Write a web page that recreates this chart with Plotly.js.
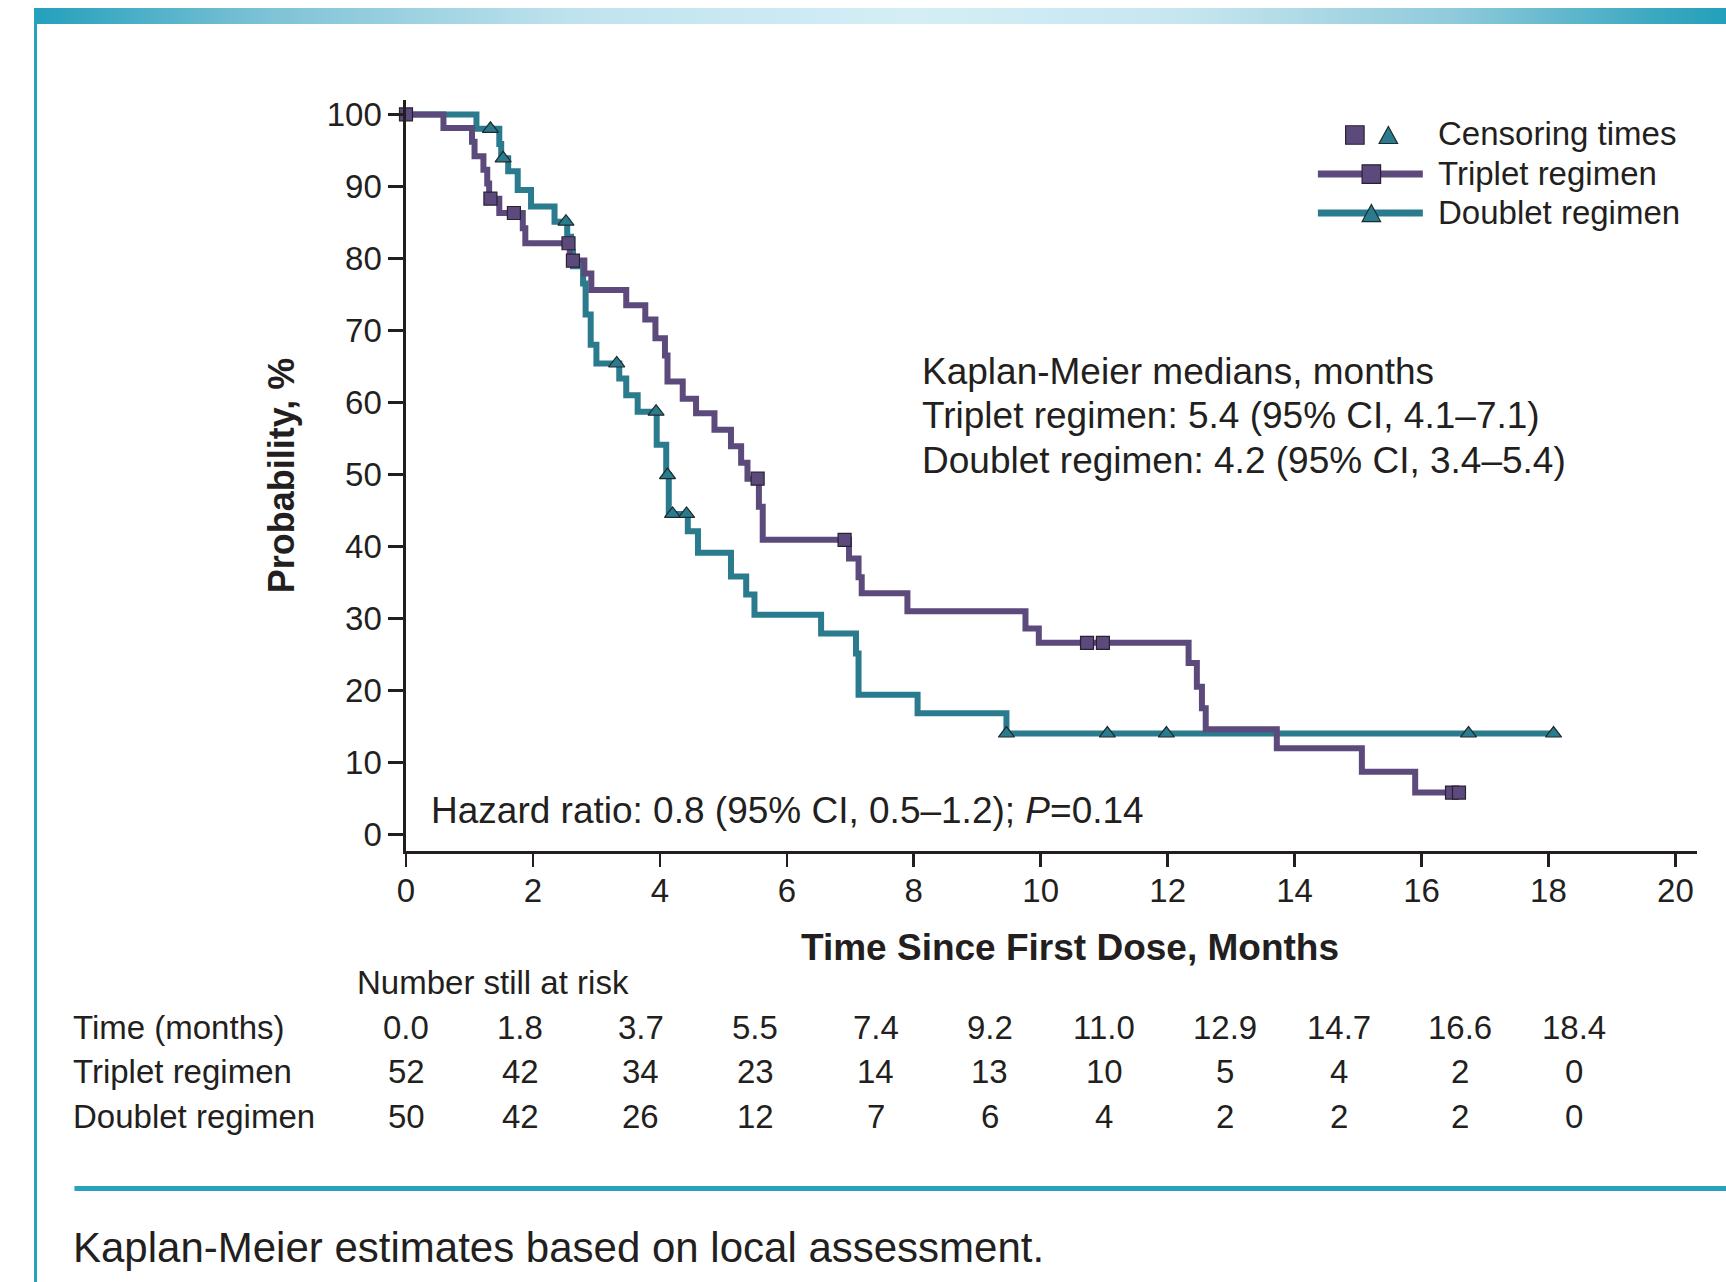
<!DOCTYPE html>
<html>
<head>
<meta charset="utf-8">
<script src="https://cdn.plot.ly/plotly-3.0.1.min.js"></script>
<style>
html,body{margin:0;padding:0;background:#ffffff;}
#wrap{position:relative;width:1726px;height:1282px;overflow:hidden;background:#ffffff;}
#band{position:absolute;left:34px;top:8px;width:1692px;height:16px;
  background:linear-gradient(to right,#23a0bc 0%,#7fc3d6 14%,#bfe3ee 32%,#d5eef5 52%,#c6e6ef 68%,#8fcadb 84%,#3aa8c1 96%,#22a0bb 100%);}
#vline{position:absolute;left:34px;top:8px;width:3px;height:1274px;background:#27a2bd;}
#chart{position:absolute;left:0;top:0;width:1726px;height:1282px;}
</style>
</head>
<body>
<div id="wrap">
  <div id="band"></div>
  <div id="vline"></div>
  <div id="chart"></div>
</div>
<script>
// ---------------- DATA ----------------
// Kaplan-Meier step curves (time in months, survival %)
const tripletTime = [0, 0.59, 1.04, 1.08, 1.22, 1.28, 1.31, 1.47, 1.84, 1.88, 2.58, 2.81, 2.92, 3.47, 3.77, 3.93, 4.08, 4.12, 4.36, 4.57, 4.86, 5.12, 5.28, 5.38, 5.56, 5.62, 6.98, 7.13, 7.18, 7.90, 9.76, 9.97, 12.33, 12.46, 12.54, 12.60, 13.72, 15.06, 15.90, 16.59];
const tripletSurv = [100, 98.1, 96.2, 94.2, 92.3, 90.4, 88.3, 86.3, 84.2, 82.1, 79.7, 77.9, 75.6, 73.5, 71.5, 68.9, 66.5, 62.9, 60.5, 58.5, 56.2, 53.9, 51.6, 49.4, 45.5, 40.9, 38.3, 35.7, 33.5, 31.0, 28.6, 26.6, 23.8, 20.5, 17.5, 14.6, 11.95, 8.7, 5.8, 5.8];
const doubletTime = [0, 1.11, 1.47, 1.50, 1.61, 1.76, 1.97, 2.34, 2.54, 2.60, 2.63, 2.79, 2.83, 2.91, 3.00, 3.36, 3.47, 3.65, 3.95, 4.10, 4.14, 4.44, 4.60, 5.12, 5.36, 5.49, 6.54, 7.09, 7.13, 8.06, 9.46, 18.12];
const doubletSurv = [100, 98.0, 95.9, 93.9, 92.1, 89.5, 87.2, 85.1, 83.0, 80.9, 78.9, 76.5, 72.2, 68.0, 65.4, 63.3, 61.0, 58.7, 54.1, 49.9, 44.5, 42.1, 39.1, 35.8, 33.3, 30.5, 27.9, 25.1, 19.4, 16.8, 14.0, 14.0];
// Censoring times
const tripletCensorTime = [0, 1.33, 1.70, 2.56, 2.63, 5.54, 6.91, 10.73, 10.98, 16.48, 16.59];
const tripletCensorSurv = [100, 88.3, 86.3, 82.1, 79.7, 49.4, 40.9, 26.6, 26.6, 5.8, 5.8];
const doubletCensorTime = [1.33, 1.53, 2.52, 3.32, 3.94, 4.12, 4.20, 4.42, 9.46, 11.05, 11.98, 16.74, 18.08];
const doubletCensorSurv = [98.0, 93.9, 85.1, 65.4, 58.7, 49.9, 44.5, 44.5, 14.0, 14.0, 14.0, 14.0, 14.0];
// Number at risk table
const riskTimes = [0.0, 1.8, 3.7, 5.5, 7.4, 9.2, 11.0, 12.9, 14.7, 16.6, 18.4];
const riskTimeLabels = ["0.0", "1.8", "3.7", "5.5", "7.4", "9.2", "11.0", "12.9", "14.7", "16.6", "18.4"];
const riskTriplet = [52, 42, 34, 23, 14, 13, 10, 5, 4, 2, 0];
const riskDoublet = [50, 42, 26, 12, 7, 6, 4, 2, 2, 2, 0];
const yTicks = [0, 10, 20, 30, 40, 50, 60, 70, 80, 90, 100];
const xTicks = [0, 2, 4, 6, 8, 10, 12, 14, 16, 18, 20];

// ---------------- STYLE ----------------
const PURPLE = '#5b4a7b';
const TEAL = '#2a7b8d';
const INK = '#231f20';
const FONT = '"Liberation Sans", Arial, Helvetica, sans-serif';

const W = 1726, H = 1282;
const L = 405.7, R = 1697.3, T = 100, B = 850.7;
const px = v => (v - L) / (R - L);      // pixel -> paper x
const py = v => (B - v) / (B - T);      // pixel -> paper y

const traces = [
  {x: doubletTime, y: doubletSurv, type: 'scatter', mode: 'lines', line: {shape: 'hv', color: TEAL, width: 6}, name: 'Doublet regimen', cliponaxis: false, hoverinfo: 'x+y'},
  {x: tripletTime, y: tripletSurv, type: 'scatter', mode: 'lines', line: {shape: 'hv', color: PURPLE, width: 6}, name: 'Triplet regimen', cliponaxis: false, hoverinfo: 'x+y'},
  {x: doubletCensorTime, y: doubletCensorSurv, type: 'scatter', mode: 'markers', marker: {symbol: 'triangle-up', size: 14, color: TEAL, line: {color: '#1e2a2e', width: 1.2}}, name: 'Doublet censored', cliponaxis: false},
  {x: tripletCensorTime, y: tripletCensorSurv, type: 'scatter', mode: 'markers', marker: {symbol: 'square', size: 13, color: PURPLE, line: {color: '#2a2233', width: 1.2}}, name: 'Triplet censored', cliponaxis: false}
];

const annotations = [];
const txt = (text, x, y, opts) => Object.assign({text: text, x: x, y: y, xref: 'paper', yref: 'paper', showarrow: false, font: {family: FONT, size: 33, color: INK}}, opts || {});

// X-axis title
annotations.push(txt('<b>Time Since First Dose, Months</b>', px(1070), py(947), {xanchor: 'center', yanchor: 'middle', font: {family: FONT, size: 37, color: INK}}));
// Medians text
annotations.push(txt('Kaplan-Meier medians, months', px(920), py(371), {xanchor: 'left', yanchor: 'middle', font: {family: FONT, size: 37, color: INK}}));
annotations.push(txt('Triplet regimen: 5.4 (95% CI, 4.1–7.1)', px(920), py(415), {xanchor: 'left', yanchor: 'middle', font: {family: FONT, size: 37, color: INK}}));
annotations.push(txt('Doublet regimen: 4.2 (95% CI, 3.4–5.4)', px(920), py(460), {xanchor: 'left', yanchor: 'middle', font: {family: FONT, size: 37, color: INK}}));
// Hazard ratio
annotations.push(txt('Hazard ratio: 0.8 (95% CI, 0.5–1.2); <i>P</i>=0.14', px(429), py(810), {xanchor: 'left', yanchor: 'middle', font: {family: FONT, size: 37, color: INK}}));

// Legend
annotations.push(txt('Censoring times', px(1436), py(133), {xanchor: 'left', yanchor: 'middle'}));
annotations.push(txt('Triplet regimen', px(1436), py(173), {xanchor: 'left', yanchor: 'middle'}));
annotations.push(txt('Doublet regimen', px(1436), py(212), {xanchor: 'left', yanchor: 'middle'}));

// Risk table
annotations.push(txt('Number still at risk', px(355), py(982), {xanchor: 'left', yanchor: 'middle'}));
annotations.push(txt('Time (months)', px(71), py(1027), {xanchor: 'left', yanchor: 'middle'}));
annotations.push(txt('Triplet regimen', px(71), py(1071), {xanchor: 'left', yanchor: 'middle'}));
annotations.push(txt('Doublet regimen', px(71), py(1116), {xanchor: 'left', yanchor: 'middle'}));
riskTimes.forEach((t, i) => {
  annotations.push(txt(riskTimeLabels[i], t, py(1027), {xref: 'x', xanchor: 'center', yanchor: 'middle'}));
  annotations.push(txt(String(riskTriplet[i]), t, py(1071), {xref: 'x', xanchor: 'center', yanchor: 'middle'}));
  annotations.push(txt(String(riskDoublet[i]), t, py(1116), {xref: 'x', xanchor: 'center', yanchor: 'middle'}));
});
// Caption
annotations.push(txt('Kaplan-Meier estimates based on local assessment.', px(71), py(1247), {xanchor: 'left', yanchor: 'middle', font: {family: FONT, size: 42, color: INK}}));

// Shapes (legend symbols, footer rule)
const sq = (cx, cy, s, fill) => ({type: 'rect', xref: 'paper', yref: 'paper', x0: px(cx - s / 2), x1: px(cx + s / 2), y0: py(cy + s / 2), y1: py(cy - s / 2), fillcolor: fill, line: {color: '#2a2233', width: 1.2}});
const tri = (cx, cy, w, h, fill) => ({type: 'path', xref: 'paper', yref: 'paper',
  path: 'M' + px(cx - w / 2) + ',' + py(cy + h / 2) + ' L' + px(cx + w / 2) + ',' + py(cy + h / 2) + ' L' + px(cx) + ',' + py(cy - h / 2) + ' Z',
  fillcolor: fill, line: {color: '#1e2a2e', width: 1.2}});
const shapes = [
  {type: 'line', xref: 'paper', yref: 'paper', x0: px(1318), x1: px(1423), y0: py(174), y1: py(174), line: {color: PURPLE, width: 7}},
  {type: 'line', xref: 'paper', yref: 'paper', x0: px(1318), x1: px(1423), y0: py(213), y1: py(213), line: {color: TEAL, width: 7}},
  sq(1355, 135, 18.5, PURPLE),
  tri(1388.5, 135, 18.5, 17, TEAL),
  sq(1371.5, 174, 18.5, PURPLE),
  tri(1371.5, 213, 18.5, 17, TEAL),
  {type: 'line', xref: 'paper', yref: 'paper', x0: px(74), x1: px(1730), y0: py(1188), y1: py(1188), line: {color: '#27a2bd', width: 5}}
];

const layout = {
  width: W, height: H,
  margin: {l: L, r: W - R, t: T, b: H - B, pad: 0},
  paper_bgcolor: 'rgba(0,0,0,0)', plot_bgcolor: 'rgba(0,0,0,0)',
  showlegend: false,
  font: {family: FONT, color: INK, size: 33},
  xaxis: {
    range: [0, 20.34], tickvals: xTicks, ticktext: xTicks.map(String),
    showgrid: false, zeroline: false, showline: true, linecolor: INK, linewidth: 2.6,
    ticks: 'outside', ticklen: 13, tickwidth: 2.6, tickcolor: INK,
    tickfont: {family: FONT, size: 33, color: INK}, ticklabelstandoff: -4,
    automargin: false, fixedrange: true
  },
  yaxis: {
    range: [-2.32, 102], tickvals: yTicks, ticktext: yTicks.map(String),
    showgrid: false, zeroline: false, showline: true, linecolor: INK, linewidth: 2.6,
    ticks: 'outside', ticklen: 15, tickwidth: 2.6, tickcolor: INK,
    tickfont: {family: FONT, size: 33, color: INK},
    title: {text: '<b>Probability, %</b>', font: {family: FONT, size: 36, color: INK}, standoff: 21},
    automargin: false, fixedrange: true
  },
  annotations: annotations,
  shapes: shapes
};

Plotly.newPlot('chart', traces, layout, {staticPlot: true, displayModeBar: false});
</script>
</body>
</html>
